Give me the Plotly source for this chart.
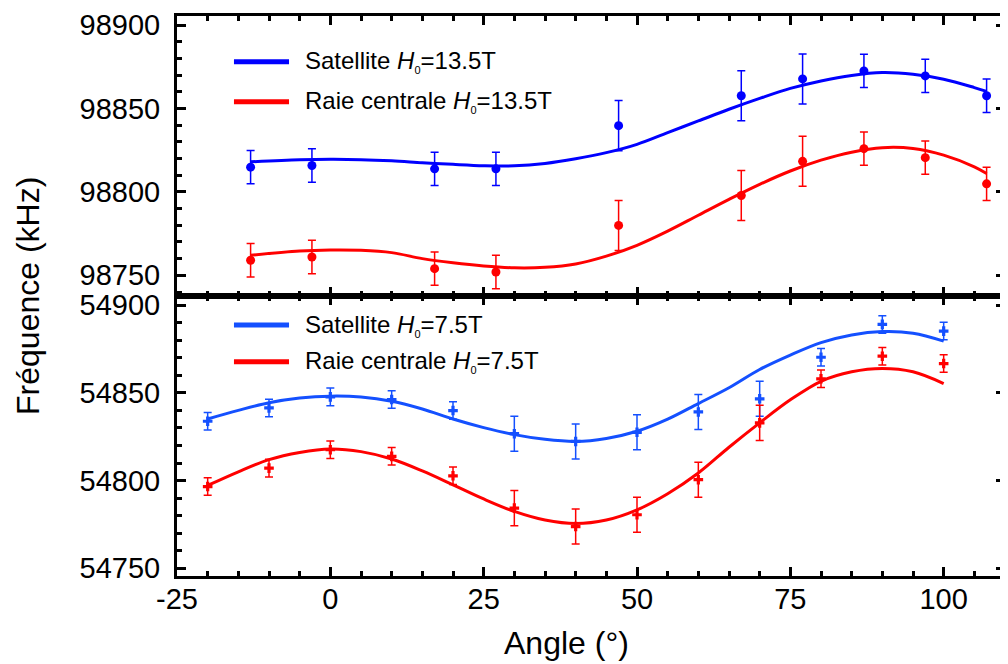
import plotly.graph_objects as go
from plotly.subplots import make_subplots

# measured points, H0 = 13.5 T (top panel)
ang_top = [-13, -3, 17, 27, 47, 67, 77, 87, 97, 107]
sat_top = [98814.8, 98815.8, 98813.8, 98813.8, 98839.7, 98857.6, 98867.7, 98872.5, 98869.5, 98857.6]
sat_top_err = [10, 10, 10, 10, 15, 15, 15, 10, 10, 10]
raie_top = [98759.0, 98761.0, 98754.0, 98752.0, 98779.9, 98797.8, 98818.3, 98825.9, 98820.5, 98804.8]
raie_top_err = [10, 10, 10, 10, 15, 15, 15, 10, 10, 10]

# fitted curves, top panel
fit_top_x = [-13, -5, 0, 5, 10, 15, 20, 25, 30, 35, 40, 45, 50, 55, 60, 65, 70, 75, 80, 85, 90, 95, 100, 105, 107]
fit_sat_top = [98818.0, 98819.2, 98819.5, 98819.3, 98818.6, 98817.5, 98816.5, 98815.7, 98815.6, 98817.0,
               98819.8, 98823.5, 98828.5, 98835.5, 98842.5, 98849.5, 98856.0, 98862.0, 98866.5, 98869.8,
               98871.5, 98870.5, 98867.5, 98862.5, 98860.2]
fit_raie_top = [98762.0, 98764.6, 98765.2, 98765.0, 98763.6, 98760.0, 98757.5, 98755.6, 98754.5, 98754.8,
                98756.8, 98761.5, 98768.0, 98776.5, 98786.0, 98795.5, 98804.5, 98812.5, 98819.0, 98823.8,
                98826.5, 98826.0, 98822.0, 98815.0, 98811.0]

# measured points, H0 = 7.5 T (bottom panel)
ang_bot = [-20, -10, 0, 10, 20, 30, 40, 50, 60, 70, 80, 90, 100]
sat_bot = [54833.8, 54841.4, 54847.7, 54846.2, 54839.9, 54826.7, 54822.3, 54827.5, 54839.1, 54846.6, 54870.3, 54889.0, 54885.2]
sat_bot_err = [5, 5, 5, 5, 5, 10, 10, 10, 10, 10, 5, 5, 5]
raie_bot = [54796.6, 54807.1, 54817.6, 54813.8, 54802.7, 54784.3, 54773.8, 54780.5, 54800.5, 54832.9, 54858.0, 54870.9, 54866.7]
raie_bot_err = [5, 5, 5, 5, 5, 10, 10, 10, 10, 10, 5, 5, 5]

fit_bot_x = [-20, -15, -10, -5, 0, 5, 10, 15, 20, 25, 30, 35, 40, 45, 50, 55, 60, 65, 70, 75, 80, 85, 90, 95, 100]
fit_sat_bot = [54835.1, 54840.0, 54844.3, 54847.0, 54848.1, 54847.6, 54845.2, 54840.8, 54835.1, 54830.2,
               54826.2, 54823.5, 54822.3, 54824.0, 54828.1, 54835.0, 54843.9, 54852.9, 54863.3, 54871.5,
               54878.6, 54883.0, 54884.9, 54884.0, 54879.5]
fit_raie_bot = [54797.2, 54805.0, 54811.9, 54816.0, 54818.0, 54816.5, 54812.3, 54805.5, 54797.6, 54789.5,
                54782.4, 54777.5, 54775.5, 54777.5, 54783.3, 54792.5, 54804.3, 54819.0, 54832.9, 54846.0,
                54856.6, 54862.0, 54863.9, 54862.0, 54855.3]

x_ticks = [-25, 0, 25, 50, 75, 100]
x_tick_text = ["-25", "0", "25", "50", "75", "100"]

legend_top = ["Satellite <i>H</i><sub><span style='font-size:11px'>0</span></sub>=13.5T",
              "Raie centrale <i>H</i><sub><span style='font-size:11px'>0</span></sub>=13.5T"]
legend_bot = ["Satellite <i>H</i><sub><span style='font-size:11px'>0</span></sub>=7.5T",
              "Raie centrale <i>H</i><sub><span style='font-size:11px'>0</span></sub>=7.5T"]

BLUE = "#0000ff"
BLUE2 = "#1450ff"
RED = "#ff0000"
FONT = "Liberation Sans, Arial, sans-serif"

fig = make_subplots(rows=2, cols=1, shared_xaxes=True, vertical_spacing=0)


def add_series(x, y, err, fx, fy, color, symbol, size, row):
    fig.add_trace(go.Scatter(x=fx, y=fy, mode="lines", line=dict(color=color, width=3, shape="spline"),
                             showlegend=False, hoverinfo="skip"), row=row, col=1)
    fig.add_trace(go.Scatter(x=x, y=y, mode="markers",
                             marker=dict(color=color, symbol=symbol, size=size, line=dict(width=0)),
                             error_y=dict(type="data", array=err, color=color, thickness=1.5, width=4),
                             showlegend=False), row=row, col=1)


add_series(ang_top, sat_top, sat_top_err, fit_top_x, fit_sat_top, BLUE, "circle", 9, 1)
add_series(ang_top, raie_top, raie_top_err, fit_top_x, fit_raie_top, RED, "circle", 9, 1)
add_series(ang_bot, sat_bot, sat_bot_err, fit_bot_x, fit_sat_bot, BLUE2, "cross", 8, 2)
add_series(ang_bot, raie_bot, raie_bot_err, fit_bot_x, fit_raie_bot, RED, "cross", 8, 2)

axis_common = dict(showline=True, linecolor="black", linewidth=3, ticks="inside", ticklen=9,
                   tickwidth=2.5, tickcolor="black", showgrid=False, zeroline=False, automargin=False,
                   tickfont=dict(family=FONT, size=29, color="black"))

fig.update_xaxes(range=[-25, 110], tickvals=x_ticks, ticktext=x_tick_text, mirror="ticks",
                 ticklabelstandoff=-5,
                 minor=dict(dtick=5, tick0=0, ticks="inside", ticklen=5, tickwidth=2.5, tickcolor="black"),
                 **axis_common)
fig.update_xaxes(showticklabels=False, row=1, col=1)
fig.update_yaxes(mirror="ticks", dtick=50, ticklabelstandoff=8, tickformat="d",
                 minor=dict(dtick=10, ticks="inside", ticklen=5, tickwidth=2.5, tickcolor="black"),
                 **axis_common)
fig.update_yaxes(range=[98737.6, 98905.4], tick0=98750, row=1, col=1)
fig.update_yaxes(range=[54745.6, 54905.2], tick0=54750, row=2, col=1)

# the page body adds an 8px margin, so the figure is 8px smaller and margins shifted
fig.update_layout(
    width=1000, height=656,
    margin=dict(l=169, r=3, t=8, b=88),
    plot_bgcolor="white", paper_bgcolor="white",
    font=dict(family=FONT, color="black"),
)
fig.update_layout(yaxis=dict(domain=[0.5, 1.0]), yaxis2=dict(domain=[0.0, 0.5]))

# hand-drawn legends (long line keys as in the original)
for labels, colors, ys in [(legend_top, [BLUE, RED], [0.9184, 0.847]),
                           (legend_bot, [BLUE2, RED], [0.448, 0.3827])]:
    for lab, col, yy in zip(labels, colors, ys):
        fig.add_shape(type="line", xref="paper", yref="paper", x0=0.0688, x1=0.1353, y0=yy, y1=yy,
                      line=dict(color=col, width=5))
        fig.add_annotation(text=lab, xref="paper", yref="paper", x=0.152, y=yy, xanchor="left",
                           yanchor="middle", showarrow=False, font=dict(family=FONT, size=24, color="black"))

fig.add_annotation(text="Fréquence (kHz)", xref="paper", yref="paper", x=-0.18, y=0.5, textangle=-90,
                   xanchor="center", yanchor="middle", showarrow=False,
                   font=dict(family=FONT, size=32, color="black"))
fig.add_annotation(text="Angle (°)", xref="paper", yref="paper", x=0.471, y=-0.12,
                   xanchor="center", yanchor="middle", showarrow=False,
                   font=dict(family=FONT, size=32, color="black"))

fig.write_html("out.html")
